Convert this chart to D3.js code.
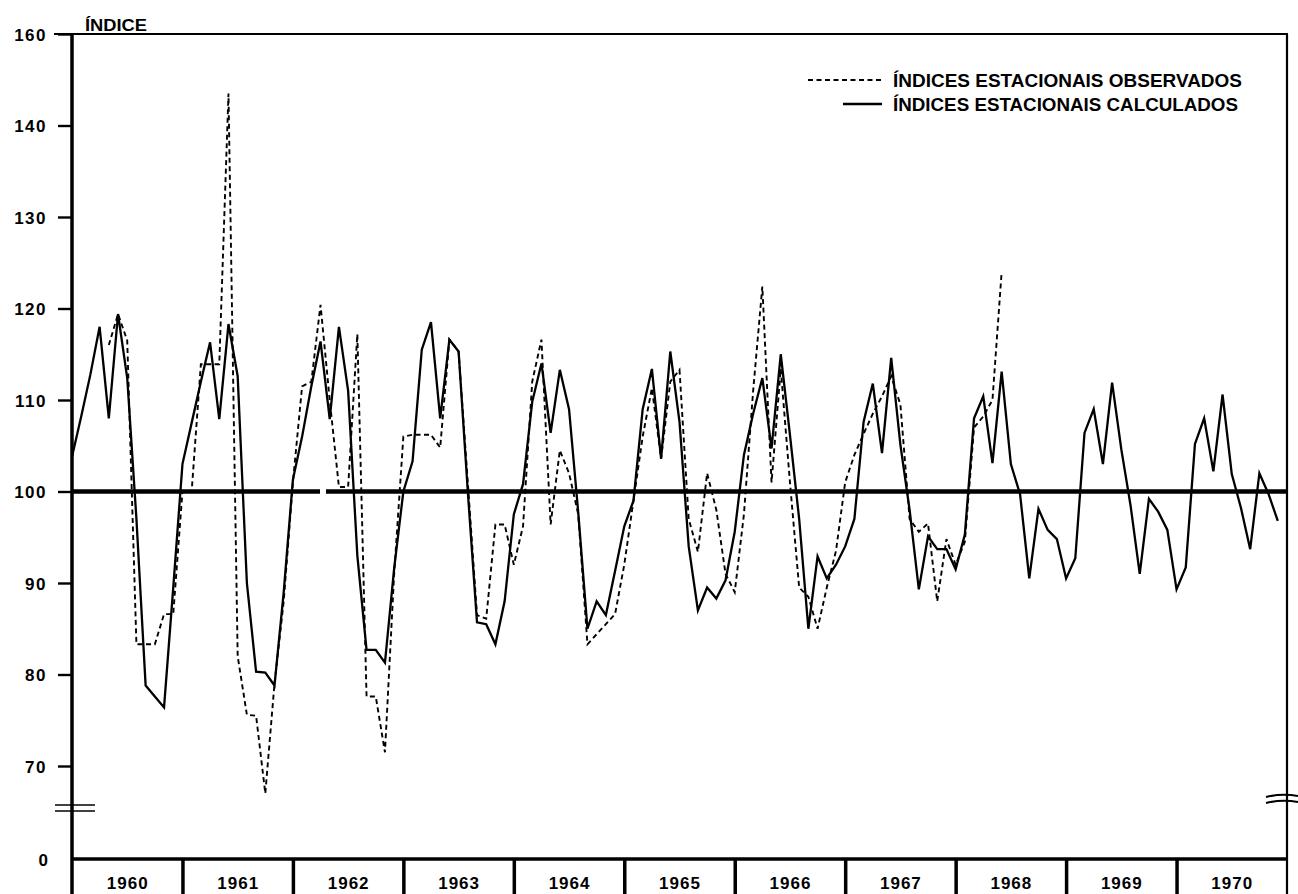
<!DOCTYPE html>
<html><head><meta charset="utf-8">
<script src="https://cdn.jsdelivr.net/npm/d3@7/dist/d3.min.js"></script>
<style>html,body{margin:0;padding:0;background:#fff}svg{display:block}</style>
</head><body>
<script>
// ---------------- DATA ----------------
const years = [1960,1961,1962,1963,1964,1965,1966,1967,1968,1969,1970];

// Índices estacionais calculados (monthly, Jan 1960 – Dec 1970)
const calculados = [
  103.8,108.2,112.8,118.0,108.0,119.4,112.4, 97.0, 78.8, 77.6, 76.4, 89.5, // 1960
  103.0,107.5,112.0,116.3,107.9,118.3,112.6, 90.0, 80.3, 80.2, 78.8, 89.0, // 1961
  101.3,106.0,111.5,116.4,107.9,118.0,111.0, 93.0, 82.7, 82.7, 81.3, 91.6, // 1962
  100.0,103.3,115.5,118.5,108.0,116.6,115.3,100.0, 85.7, 85.5, 83.3, 88.0, // 1963
   97.5,100.8,109.8,114.0,106.4,113.3,109.0, 97.7, 85.0, 88.0, 86.5, 91.3, // 1964
   96.2, 99.0,109.0,113.4,103.6,115.3,107.6, 94.0, 87.0, 89.5, 88.3, 90.3, // 1965
   95.6,104.0,108.5,112.4,104.7,115.0,106.2, 97.0, 85.0, 92.9, 90.5, 92.0, // 1966
   94.0, 97.0,107.6,111.8,104.2,114.6,105.1, 98.0, 89.3, 95.1, 93.7, 93.7, // 1967
   91.5, 95.3,108.0,110.4,103.1,113.1,103.0, 99.7, 90.5, 98.1, 95.8, 94.8, // 1968
   90.5, 92.7,106.4,109.0,103.0,111.9,104.6, 98.5, 91.0, 99.2, 97.8, 95.8, // 1969
   89.3, 91.7,105.2,108.0,102.2,110.6,101.9, 98.2, 93.7,102.0, 99.7, 96.8  // 1970
];

// Índices estacionais observados (null = not available)
const observados = [
  null,null,null,null,116.0,119.4,116.5, 83.3, 83.3, 83.3, 86.6, 86.6,  // 1960
  100.0,100.0,113.9,113.9,113.9,143.5, 82.0, 75.6, 75.5, 67.0, 79.0, 88.0, // 1961
  101.0,111.5,112.0,120.4,110.0,100.5,100.5,117.2, 77.6, 77.6, 71.5, 91.0, // 1962
  106.0,106.2,106.2,106.2,104.8,116.6,115.3,101.0, 86.5, 86.1, 96.4, 96.4, // 1963
   92.0, 96.2,112.0,116.6, 96.4,104.5,102.0, 97.5, 83.3, 84.4, 85.5, 86.6, // 1964
   92.0, 99.0,106.0,111.3,103.6,112.0,113.3, 97.0, 93.4,102.0, 98.0, 91.0, // 1965
   89.0, 97.5,111.0,122.4,101.0,113.4,101.0, 89.5, 88.5, 85.0, 89.5, 93.5, // 1966
  101.0,104.0,106.3,108.5,110.4,112.6,109.5, 97.0, 95.6, 96.5, 88.0, 94.8, // 1967
   92.0, 94.5,107.0,108.2,110.0,124.0,null,null,null,null,null,null,        // 1968
  null,null,null,null,null,null,null,null,null,null,null,null,              // 1969
  null,null,null,null,null,null,null,null,null,null,null,null               // 1970
];

const yTickValues = [150,140,130,120,110,100,90,80,70];
const yTickLabels = ["160","140","130","120","110","100","90","80","70"];
const legendLabels = ["ÍNDICES ESTACIONAIS OBSERVADOS","ÍNDICES ESTACIONAIS CALCULADOS"];
const yTitle = "ÍNDICE";

// ---------------- CHART ----------------
const W = 1298, H = 894;
const L = 72, R = 1287, T = 34, B = 859;
const FONT = "'Liberation Sans', Arial, Helvetica, sans-serif";

const svg = d3.select("body").append("svg").attr("width", W).attr("height", H);
svg.append("rect").attr("width", W).attr("height", H).attr("fill", "#fff");

const x = d3.scaleLinear().domain([years[0], years[years.length-1] + 1]).range([L, R]);
const y = d3.scaleLinear().domain([70, 150]).range([766, T]);

const toPts = arr => arr.map((v, i) => ({t: years[0] + i / 12, v}));

// reference line at 100
const y100 = y(100);
[[L, 320], [326, R]].forEach(s => {
  svg.append("line").attr("x1", s[0]).attr("x2", s[1])
    .attr("y1", y100).attr("y2", y100)
    .attr("stroke", "#000").attr("stroke-width", 4.5);
});

const line = d3.line().defined(d => d.v != null).x(d => x(d.t)).y(d => y(d.v));

svg.append("path").datum(toPts(observados))
  .attr("d", line).attr("fill", "none").attr("stroke", "#000")
  .attr("stroke-width", 1.9).attr("stroke-dasharray", "5,3.5")
  .attr("stroke-linejoin", "miter");

svg.append("path").datum(toPts(calculados))
  .attr("d", line).attr("fill", "none").attr("stroke", "#000")
  .attr("stroke-width", 2.3).attr("stroke-linejoin", "miter");

// frame
svg.append("line").attr("x1", 54).attr("x2", R + 1).attr("y1", T).attr("y2", T)
  .attr("stroke", "#000").attr("stroke-width", 2.2);
svg.append("line").attr("x1", L).attr("x2", L).attr("y1", T).attr("y2", H)
  .attr("stroke", "#000").attr("stroke-width", 3.5);
svg.append("line").attr("x1", R).attr("x2", R).attr("y1", T).attr("y2", H)
  .attr("stroke", "#000").attr("stroke-width", 2.2);
svg.append("line").attr("x1", L).attr("x2", R).attr("y1", B).attr("y2", B)
  .attr("stroke", "#000").attr("stroke-width", 3.5);

// y axis
const yAxis = d3.axisLeft(y).tickValues(yTickValues)
  .tickFormat((d, i) => yTickLabels[i]).tickSize(14).tickPadding(11);
const gy = svg.append("g").attr("transform", `translate(${L},0)`).call(yAxis);
gy.select(".domain").remove();
gy.selectAll(".tick line").attr("stroke", "#000").attr("stroke-width", 2.4);
gy.selectAll(".tick text").attr("font-family", FONT).attr("font-weight", "bold")
  .attr("font-size", 17).attr("fill", "#000").attr("letter-spacing", 1.5)
  .attr("dy", "0.36em");

// "0" at base
svg.append("text").attr("x", 48).attr("y", B + 7).attr("text-anchor", "end")
  .attr("font-family", FONT).attr("font-weight", "bold").attr("font-size", 17).text("0");

// axis break marks (left)
[805, 811].forEach(yy => {
  svg.append("line").attr("x1", 55).attr("x2", 95).attr("y1", yy).attr("y2", yy)
    .attr("stroke", "#000").attr("stroke-width", 1.6);
});
// axis break marks (right)
[796, 802].forEach(yy => {
  svg.append("path").attr("d", `M1266,${yy+1} Q1282,${yy-3} 1298,${yy}`)
    .attr("fill", "none").attr("stroke", "#000").attr("stroke-width", 2);
});

// x axis: year separators + labels
const xSep = d3.axisBottom(x).tickValues(d3.range(years[0] + 1, years[years.length-1] + 1))
  .tickSize(H - B).tickFormat("");
const gx = svg.append("g").attr("transform", `translate(0,${B})`).call(xSep);
gx.select(".domain").remove();
gx.selectAll(".tick line").attr("stroke", "#000").attr("stroke-width", 3.5);

const xLab = d3.axisBottom(x).tickValues(years.map(d => d + 0.5))
  .tickSize(0).tickFormat(d => String(Math.floor(d)));
const gl = svg.append("g").attr("transform", `translate(0,${B})`).call(xLab);
gl.select(".domain").remove();
gl.selectAll(".tick text").attr("font-family", FONT).attr("font-weight", "bold")
  .attr("font-size", 17).attr("fill", "#000").attr("letter-spacing", 1)
  .attr("dy", 0).attr("y", 30);

// y title
svg.append("text").attr("x", 85).attr("y", 31)
  .attr("font-family", FONT).attr("font-weight", "bold").attr("font-size", 17)
  .attr("textLength", 62).attr("lengthAdjust", "spacingAndGlyphs").text(yTitle);

// legend
const lg = svg.append("g");
lg.append("line").attr("x1", 808).attr("x2", 881).attr("y1", 80).attr("y2", 80)
  .attr("stroke", "#000").attr("stroke-width", 1.9).attr("stroke-dasharray", "5,3.5");
lg.append("line").attr("x1", 843).attr("x2", 882).attr("y1", 104).attr("y2", 104)
  .attr("stroke", "#000").attr("stroke-width", 2.3);
lg.append("text").attr("x", 893).attr("y", 87).attr("font-family", FONT)
  .attr("font-weight", "bold").attr("font-size", 18)
  .attr("textLength", 349).attr("lengthAdjust", "spacingAndGlyphs").text(legendLabels[0]);
lg.append("text").attr("x", 893).attr("y", 111).attr("font-family", FONT)
  .attr("font-weight", "bold").attr("font-size", 18)
  .attr("textLength", 345).attr("lengthAdjust", "spacingAndGlyphs").text(legendLabels[1]);
</script>
</body></html>
